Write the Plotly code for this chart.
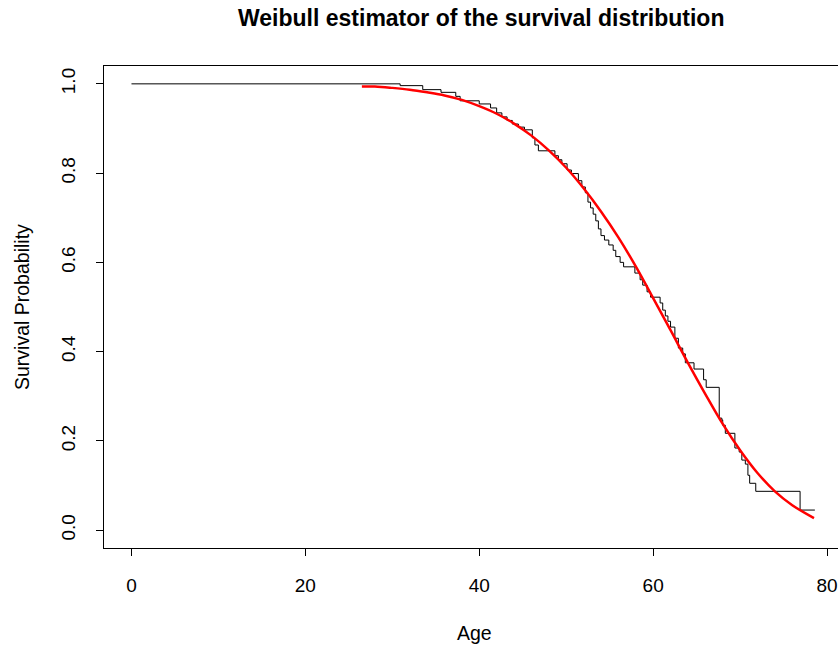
import plotly.graph_objects as go

# Kaplan-Meier step estimate (age at which each drop happens, survival after it)
km_age = [0, 30.9, 33.5, 35.6, 37.3, 37.8, 40.0, 41.3, 42.0, 42.6, 43.2, 43.8, 44.5, 45.2,
          46.1, 46.4, 46.8, 48.7, 49.1, 49.5, 50.1, 50.6, 51.4, 51.8, 52.2, 52.5, 52.8, 53.1,
          53.4, 53.7, 54.0, 54.4, 54.9, 55.4, 55.7, 56.2, 56.6, 57.9, 58.5, 58.8, 59.3, 59.7,
          60.8, 61.1, 61.4, 61.7, 62.0, 62.5, 62.9, 63.4, 63.7, 64.7, 65.8, 66.1, 67.6, 67.9,
          68.0, 68.3, 69.4, 69.9, 70.2, 70.6, 70.9, 71.1, 71.8, 76.9]
km_surv = [1.0, 0.996, 0.987, 0.981, 0.972, 0.962, 0.955, 0.946, 0.935, 0.926, 0.918, 0.910,
           0.903, 0.897, 0.879, 0.863, 0.850, 0.839, 0.830, 0.821, 0.807, 0.799, 0.783, 0.769,
           0.756, 0.735, 0.722, 0.708, 0.693, 0.675, 0.660, 0.650, 0.639, 0.627, 0.613, 0.600,
           0.590, 0.576, 0.561, 0.549, 0.534, 0.522, 0.509, 0.493, 0.480, 0.468, 0.455, 0.430,
           0.408, 0.395, 0.375, 0.361, 0.337, 0.320, 0.251, 0.247, 0.235, 0.217, 0.184, 0.175,
           0.157, 0.148, 0.123, 0.105, 0.087, 0.045]
km_end_age = 78.6

# Weibull fitted survival curve
weib_age = [26.5, 28, 30, 32, 34, 36, 38, 40, 42, 44, 46, 48, 50, 52, 54, 56, 58, 60,
            62, 64, 66, 68, 70, 72, 74, 76, 78.5]
weib_surv = [0.994, 0.994, 0.991, 0.987, 0.981, 0.974, 0.964, 0.950, 0.933, 0.911, 0.884,
             0.851, 0.812, 0.766, 0.714, 0.656, 0.591, 0.520, 0.448, 0.375, 0.305, 0.238,
             0.179, 0.128, 0.087, 0.056, 0.027]

x_ticks = [0, 20, 40, 60, 80]
y_ticks = [0.0, 0.2, 0.4, 0.6, 0.8, 1.0]
y_tick_labels = ["0.0", "0.2", "0.4", "0.6", "0.8", "1.0"]

title_text = "Weibull estimator of the survival distribution"
x_title = "Age"
y_title = "Survival Probability"

FONT = "Liberation Sans, Arial, sans-serif"
TICK_SIZE = 19
LAB_SIZE = 19.5
TITLE_SIZE = 23

fig = go.Figure()
fig.add_trace(go.Scatter(
    x=km_age + [km_end_age], y=km_surv + [km_surv[-1]],
    mode="lines", line=dict(shape="hv", color="black", width=1),
    showlegend=False, hoverinfo="skip"))
fig.add_trace(go.Scatter(
    x=weib_age, y=weib_surv,
    mode="lines", line=dict(shape="spline", color="#ff0000", width=2.5),
    showlegend=False, hoverinfo="skip"))

fig.update_layout(
    width=838, height=646,
    margin=dict(l=104, r=0, t=66, b=98),
    paper_bgcolor="white", plot_bgcolor="white",
    font=dict(family=FONT, color="black", size=TICK_SIZE),
    xaxis=dict(range=[-3.16, 81.26], tickvals=x_ticks, showgrid=False, zeroline=False,
               showline=True, mirror=True, linecolor="black", linewidth=1,
               ticks="outside", ticklen=7, tickcolor="black", tickwidth=1,
               ticklabelstandoff=13, tickfont=dict(size=TICK_SIZE, family=FONT, color="black")),
    yaxis=dict(range=[-0.04, 1.04], tickvals=y_ticks, ticktext=y_tick_labels,
               showgrid=False, zeroline=False, showline=True, mirror=False,
               linecolor="black", linewidth=1, ticks="outside", ticklen=7,
               tickcolor="black", tickwidth=1, tickangle=-90, ticklabelstandoff=13,
               tickfont=dict(size=TICK_SIZE, family=FONT, color="black")),
    annotations=[
        dict(text="<b>" + title_text + "</b>", xref="x", yref="paper", x=40.2, y=1,
             yshift=48, showarrow=False, xanchor="center", yanchor="middle",
             font=dict(size=TITLE_SIZE, family=FONT, color="black")),
        dict(text=x_title, xref="x", yref="paper", x=39.5, y=0, yshift=-85,
             showarrow=False, xanchor="center", yanchor="middle",
             font=dict(size=LAB_SIZE, family=FONT, color="black")),
        dict(text=y_title, xref="paper", yref="paper", x=0, y=0.5, xshift=-82,
             textangle=-90, showarrow=False, xanchor="center", yanchor="middle",
             font=dict(size=LAB_SIZE, family=FONT, color="black")),
    ],
)

fig.write_html("out.html")
